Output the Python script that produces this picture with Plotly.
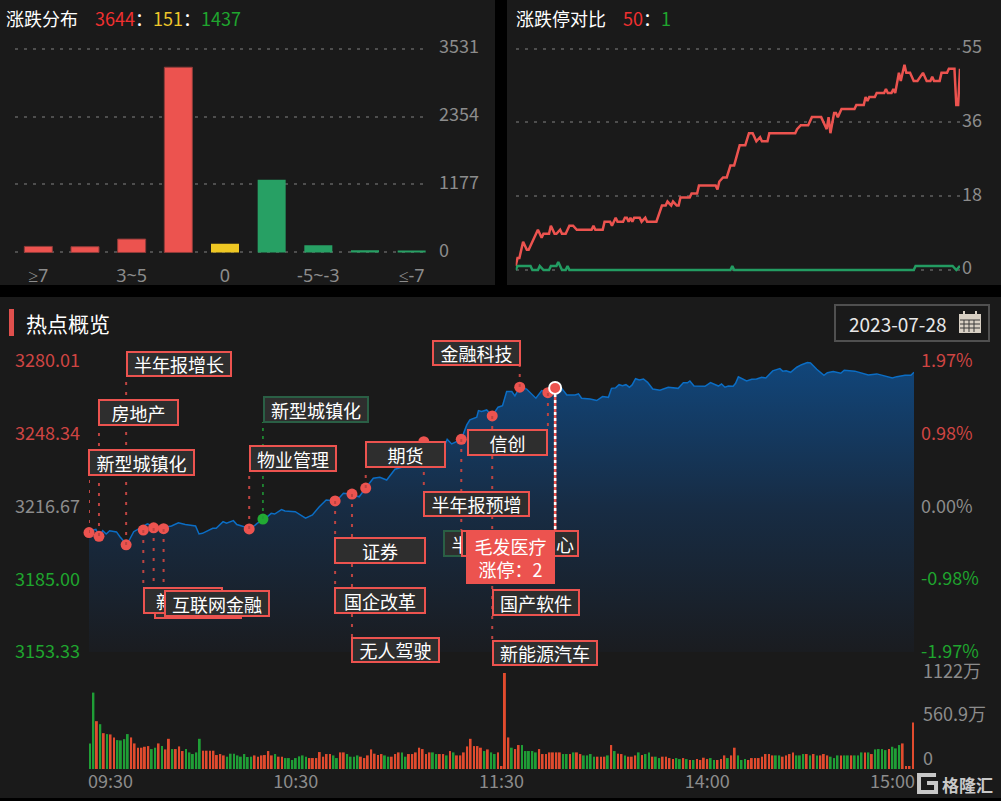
import plotly.graph_objects as go

# ---- data ----
dist_labels = ['≥7', '5~7', '3~5', '0~3', '0', '-3~0', '-5~-3', '-7~-5', '≤-7']
dist_values = [105, 100, 232, 3207, 151, 1258, 123, 37, 19]
dist_colors = ['#ec534f'] * 4 + ['#efc823'] + ['#27a064'] * 4
dist_ticks = ['≥7', '3~5', '0', '-5~-3', '≤-7']

limit_up_min = [0, 1, 2, 4, 6, 7, 10, 12, 14, 15, 18, 19, 21, 22, 24, 25, 27, 29, 31, 33, 41, 42, 43, 47, 48, 51, 52,
                54, 55, 58, 59, 60, 61, 62, 63, 64, 67, 68, 70, 71, 76, 79, 81, 82, 84, 85, 87, 88, 89, 94, 95, 98,
                99, 108, 109, 110, 112, 114, 116, 118, 121, 124, 126, 128, 130, 132, 133, 136, 137, 151, 152, 154,
                158, 160, 165, 168, 169, 170, 172, 173, 174, 176, 183, 184, 188, 189, 190, 191, 194, 195, 199, 200,
                201, 203, 204, 205, 207, 208, 210, 211, 213, 215, 217, 220, 222, 224, 225, 226, 229, 230, 233, 234,
                237, 238, 239, 240]
limit_up_val = [1, 3, 3, 7, 5, 5, 8, 10, 8, 9, 9, 11, 9, 9, 10, 9, 9, 11, 11, 10, 10, 11, 10, 10, 12, 12, 11,
                13, 12, 12, 13, 13, 12, 13, 12, 13, 13, 12, 13, 12, 12, 16, 16, 17, 16, 17, 16, 16, 18, 18, 19, 19,
                21, 21, 20, 22, 23, 23, 26, 26, 31, 31, 34, 34, 32, 33, 32, 32, 34, 34, 35, 36,
                36, 38, 38, 35, 38, 34, 39, 39, 38, 40, 40, 41, 41, 43, 42, 43, 43, 44, 44, 45,
                44, 44, 45, 44, 49, 47, 51, 49, 49, 47, 47, 49, 47, 47, 48, 47, 47, 49, 49, 50,
                50, 41, 41, 50]
limit_down_min = [0, 1, 8, 9, 12, 13, 15, 18, 19, 22, 23, 25, 27, 28, 29, 116, 117, 118, 215, 216, 236, 238, 240]
limit_down_val = [0, 1, 1, 0, 0, 1, 0, 0, 1, 1, 2, 0, 0, 1, 0, 0, 1, 0, 0, 1, 1, 0, 1]

index_min = [0, 1, 2, 3, 4, 5, 6, 8, 9, 11, 13, 16, 17, 19, 22, 24, 26, 28, 31, 32, 33, 36, 37, 39, 40, 42, 43, 47,
             49, 51, 53, 54, 56, 57, 60, 63, 65, 67, 69, 72, 74, 76, 78.6, 80.5, 82.7, 84.6, 86.6, 89, 91.4, 97.4,
             103.6, 104.2, 105.5, 108.3, 109.9, 110.8, 112.8, 113.3, 114.2, 115.7, 117.3, 119, 120.3, 121.5, 123,
             123.9, 125.3, 127.3, 130, 131.7, 133.5, 135.6, 137.5, 139, 141.4, 142.4, 143.3, 145.8, 147.7, 149.4,
             151.1, 152, 153.2, 154.2, 155.2, 156.2, 157.2, 158, 159, 160.1, 161.3, 162.5, 164, 166.1, 168.5, 171.4,
             172.9, 174.1, 174.8, 176, 179.2, 180.8, 183.1, 184, 185, 186, 187.4, 188.1, 188.9, 191.3, 192.8, 194.2,
             195.7, 196.9, 198.9, 201, 201.8, 202.8, 204.1, 205.9, 207.3, 209, 209.9, 211.7, 213.8, 214.8, 216.5,
             218.7, 219.7, 222.8, 225.3, 226.7, 229.2, 232, 233.7, 235, 237.4, 239.1, 240]
index_val = [3205.3, 3206.4, 3206.7, 3203.8, 3206.1, 3204.7, 3206.1, 3205.6, 3203.5, 3200.0, 3205.7, 3208.2, 3209.1,
             3207.9, 3207.6, 3208.2, 3209.6, 3208.8, 3208.2, 3204.7, 3205.0, 3207.2, 3207.2, 3210.1, 3209.4, 3210.5,
             3208.8, 3207.0, 3209.4, 3211.1, 3213.7, 3213.4, 3215.3, 3214.7, 3214.4, 3211.6, 3213.0, 3216.6, 3219.5,
             3219.1, 3222.4, 3222.1, 3220.9, 3224.7, 3229.0, 3229.4, 3228.2, 3232.9, 3233.9, 3244.9,
             3243.9, 3245.9, 3243.9, 3245.9, 3252.2, 3254.4, 3255.5, 3258.4, 3258.0, 3258.7, 3256.1, 3259.9, 3260.6,
             3266.7, 3266.7, 3264.8, 3268.6, 3267.8, 3263.8, 3267.1, 3266.2, 3268.3, 3268.1, 3265.2, 3265.2, 3265.7,
             3263.8, 3263.5, 3262.8, 3264.5, 3264.2, 3268.1, 3268.3, 3269.7, 3269.3, 3269.7, 3268.6, 3269.6, 3272.3,
             3271.8, 3272.2, 3270.7, 3267.8, 3267.3, 3268.6, 3268.1, 3270.5, 3270.5, 3271.3, 3269.1, 3269.0, 3270.6,
             3269.1, 3270.0, 3268.6, 3269.1, 3269.0, 3270.3, 3273.1, 3271.3, 3272.1, 3272.2, 3272.9, 3272.6, 3275.7,
             3276.7, 3275.6, 3275.8, 3275.1, 3277.3, 3278.4, 3279.3, 3279.2, 3276.4, 3273.8, 3274.9, 3275.4, 3274.7,
             3276.0, 3275.6, 3274.7, 3273.9, 3274.4, 3273.4, 3272.6, 3273.2, 3273.8, 3273.8, 3275.1]

event_min = [0, 2.9, 10.8, 15.8, 18.8, 21.7, 46.6, 71.6, 76.5, 80.5, 97.4, 108.3, 117.3, 125.3, 133.5]
event_val = [3205.3, 3203.7, 3200.0, 3206.4, 3207.4, 3207.0, 3206.9, 3219.1, 3222.1, 3224.7, 3244.9, 3245.9,
             3256.1, 3268.6, 3266.2]
down_event_min = [50.6]
down_event_val = [3211.2]
picked_min = [135.6]
picked_val = [3268.3]

volume = [299, 893, 559, 524, 419, 408, 404, 369, 338, 334, 349, 408, 369, 299, 249, 249, 260, 268, 233, 249,
          299, 268, 229, 353, 233, 233, 264, 210, 233, 194, 175, 194, 353, 214, 214, 214, 214, 163, 175, 159,
          144, 179, 179, 159, 144, 175, 140, 144, 159, 144, 159, 163, 210, 159, 175, 144, 144, 128, 128, 105,
          128, 148, 159, 144, 128, 128, 128, 198, 144, 175, 175, 159, 128, 194, 194, 175, 144, 144, 159, 144,
          128, 159, 229, 179, 163, 175, 159, 144, 144, 175, 194, 194, 144, 175, 175, 194, 249, 233, 175, 194,
          194, 175, 175, 175, 159, 210, 194, 159, 159, 194, 264, 353, 268, 268, 249, 210, 229, 194, 175, 194,
          35, 1122, 369, 249, 233, 280, 280, 210, 210, 210, 194, 233, 175, 175, 194, 194, 194, 194, 175, 175,
          175, 194, 194, 175, 159, 159, 175, 144, 144, 144, 144, 159, 280, 210, 179, 175, 159, 144, 144, 159,
          194, 163, 175, 194, 144, 144, 128, 144, 144, 128, 116, 128, 116, 128, 116, 105, 105, 116, 105, 132,
          116, 128, 105, 105, 116, 159, 128, 159, 249, 159, 105, 116, 105, 128, 128, 128, 144, 175, 175, 159,
          159, 159, 144, 159, 175, 194, 159, 159, 175, 175, 159, 175, 159, 159, 175, 159, 144, 128, 159, 159,
          159, 159, 159, 159, 159, 194, 194, 194, 175, 229, 233, 233, 221, 233, 260, 241, 280, 299, 35, 35, 544]
# R up / G down for each minute bar, ten per group
volume_dir = ''.join(['GGRGRGRRGG', 'GGRRRRRRGG', 'RGRRGRRRGG', 'GGGRRRRRRR', 'GGGGGGGGRR', 'RRRRGRRGGG',
                      'GGGGRRRRRR', 'RGGRRGGGGR', 'RRRRRRGGRR', 'RGGRRRRRRR', 'GGRRGRGRRR', 'RRRRRGRGGR',
                      'RRRGRRGGGG', 'GRRRRRRRGG', 'RGRRGGGGRR', 'RGRGRRGRRR', 'GRGGRGGRRR', 'RGGRGRGRRR',
                      'RGGRRRGRRG', 'GGRRRRRRRR', 'GGRRRRGGGR', 'GRGRRRGGGR', 'GGRGGGRGRG', 'GGGRGGGRRR', 'R'])
time_ticks = ['09:30', '10:30', '11:30', '14:00', '15:00']
left_ticks = ['3153.33', '3185.00', '3216.67', '3248.34', '3280.01']
left_vals = [3153.33, 3185.0, 3216.67, 3248.34, 3280.01]
pct_ticks = ['-1.97%', '-0.98%', '0.00%', '0.98%', '1.97%']
pct_vals = [-1.97, -0.98, 0, 0.98, 1.97]

# ---- colours ----
PANEL = '#1a1a1a'
RED = '#ec534f'
GREEN = '#239c62'
GRAY = '#8c8c8c'
TXT_RED = '#f03030'
TXT_YEL = '#eec62a'
TXT_GRN = '#1fa52e'
AX_RED = '#cf4543'
FONT = 'Noto Sans CJK SC'
W, H = 1001, 801


def fx(px):
    return px / W


def fy(py):
    return 1 - py / H


def colored(text, color):
    return '<span style="color:%s">%s</span>' % (color, text)


def text_at(text, px, py, size=18, color='white', xanchor='left'):
    return dict(text=text, x=fx(px), y=fy(py), xref='paper', yref='paper', xanchor=xanchor, yanchor='middle',
                showarrow=False, font=dict(family=FONT, size=size, color=color))


def label_box(text, x0, x1, y0, y1, border=RED):
    return dict(text=text, x=fx(x0), y=fy(y0), xref='paper', yref='paper', xanchor='left', yanchor='top',
                showarrow=False, width=x1 - x0 - 4, height=y1 - y0 - 4, borderpad=0, borderwidth=2,
                bordercolor=border, bgcolor='#2e2e2e', align='center', valign='middle',
                font=dict(family=FONT, size=18, color='white'))


fig = go.Figure()

fig.add_trace(go.Bar(x=dist_labels, y=dist_values, width=0.6,
                     marker=dict(color=dist_colors, line=dict(color='#8f3b39', width=[1, 1, 1, 1, 0, 0, 0, 0, 0])),
                     xaxis='x', yaxis='y'))
fig.add_trace(go.Scatter(x=limit_up_min, y=limit_up_val, mode='lines', line=dict(color=RED, width=2.5),
                         xaxis='x2', yaxis='y2'))
fig.add_trace(go.Scatter(x=limit_down_min, y=limit_down_val, mode='lines', line=dict(color=GREEN, width=2.5),
                         xaxis='x2', yaxis='y2'))

fig.add_trace(go.Scatter(x=index_min, y=index_val, mode='lines', line=dict(color='#0b6dc4', width=1.5), fill='tozeroy',
                         fillgradient=dict(type='vertical', start=3153.33, stop=3280.01,
                                           colorscale=[[0, '#1a1c20'], [0.5, '#172c44'], [1, '#11467b']]),
                         xaxis='x3', yaxis='y3'))
# invisible, only there so that the percent axis gets drawn
fig.add_trace(go.Scatter(x=[0, 240], y=[pct_vals[0], pct_vals[-1]], mode='lines', line=dict(width=0),
                         xaxis='x3', yaxis='y4'))
fig.add_trace(go.Scatter(x=event_min, y=event_val, mode='markers', marker=dict(color=RED, size=11), cliponaxis=False,
                         xaxis='x3', yaxis='y3'))
fig.add_trace(go.Scatter(x=down_event_min, y=down_event_val, mode='markers', marker=dict(color='#22aa33', size=11),
                         xaxis='x3', yaxis='y3'))
fig.add_trace(go.Scatter(x=picked_min, y=picked_val, mode='markers',
                         marker=dict(color=RED, size=12, line=dict(color='white', width=2)),
                         xaxis='x3', yaxis='y3'))

vol_colors = ['#e14b2e' if d == 'R' else '#1f9e36' for d in volume_dir]
fig.add_trace(go.Bar(x=list(range(len(volume))), y=volume, width=0.55, marker=dict(color=vol_colors, line=dict(width=0)),
                     xaxis='x5', yaxis='y5'))

# ---- shapes ----
shapes = []
for x0, y0, x1, y1 in [(0, 0, 495, 285), (507, 0, 1001, 285), (0, 297, 1001, 798)]:
    shapes.append(dict(type='rect', xref='paper', yref='paper', x0=fx(x0), x1=fx(x1), y0=fy(y0), y1=fy(y1),
                       fillcolor=PANEL, line=dict(width=0), layer='below'))
shapes.append(dict(type='rect', xref='paper', yref='paper', x0=fx(9), x1=fx(14), y0=fy(309), y1=fy(336),
                   fillcolor='#e0504d', line=dict(width=0)))
shapes.append(dict(type='rect', xref='paper', yref='paper', x0=fx(835), x1=fx(989), y0=fy(305), y1=fy(341),
                   line=dict(color='#505050', width=2)))

# dotted leaders: minute, from y pixel, to y pixel
leaders = [(0, 533, 476), (2.9, 536, 426), (10.8, 545, 377), (15.8, 530, 587), (18.8, 528, 600), (21.7, 529, 590),
           (46.6, 529, 472), (71.6, 501, 587), (76.5, 494, 637), (80.5, 488, 468), (97.4, 442, 491),
           (108.3, 439, 530), (117.3, 416, 640), (125.3, 387, 366), (133.5, 393, 429)]
for m, y0, y1 in leaders:
    shapes.append(dict(type='line', xref='x3', yref='paper', x0=m, x1=m, y0=fy(y0), y1=fy(y1),
                       line=dict(color='#bd4441', width=2, dash='3px,7px')))
shapes.append(dict(type='line', xref='x3', yref='paper', x0=50.6, x1=50.6, y0=fy(519), y1=fy(422),
                   line=dict(color='#1f9e36', width=1.5, dash='3px,5px')))
shapes.append(dict(type='line', xref='x3', yref='paper', x0=135.6, x1=135.6, y0=fy(394), y1=fy(531),
                   line=dict(color=RED, width=2.5)))
shapes.append(dict(type='line', xref='x3', yref='paper', x0=135.6, x1=135.6, y0=fy(394), y1=fy(531),
                   line=dict(color='white', width=2.5, dash='3px,3px')))

# calendar icon
ICON = '#d8d0c4'
shapes.append(dict(type='rect', xref='paper', yref='paper', x0=fx(959), x1=fx(981), y0=fy(314), y1=fy(333),
                   fillcolor=ICON, line=dict(width=0)))
for px in [964, 969, 974]:
    shapes.append(dict(type='line', xref='paper', yref='paper', x0=fx(px), x1=fx(px), y0=fy(320), y1=fy(332),
                       line=dict(color='#3a3a3a', width=1)))
for py in [320, 324, 328]:
    shapes.append(dict(type='line', xref='paper', yref='paper', x0=fx(960), x1=fx(980), y0=fy(py), y1=fy(py),
                       line=dict(color='#3a3a3a', width=1)))
for px in [964, 976]:
    shapes.append(dict(type='line', xref='paper', yref='paper', x0=fx(px), x1=fx(px), y0=fy(311), y1=fy(317),
                       line=dict(color=ICON, width=2)))

# watermark logo
logo = [(936, 775), (919, 775), (919, 792), (936, 792), (936, 783), (927, 783)]
path = 'M ' + ' L '.join('%.4f %.4f' % (fx(a), fy(b)) for a, b in logo)
shapes.append(dict(type='path', xref='paper', yref='paper', path=path, line=dict(color='#c8c8c8', width=4)))

# ---- text ----
sep = colored('：', 'white')
annotations = [
    text_at('涨跌分布', 4, 17.5),
    text_at(colored('3644', TXT_RED) + sep + colored('151', TXT_YEL) + sep + colored('1437', TXT_GRN), 93, 17.5),
    text_at('涨跌停对比', 514, 17.5),
    text_at(colored('50', TXT_RED) + sep + colored('1', TXT_GRN), 621, 17.5),
    text_at('热点概览', 24, 323, size=21),
    text_at('2023-07-28', 847, 323, size=19, color='#e8e8e8'),
    text_at('1122万', 921, 670, color=GRAY),
    text_at('560.9万', 921, 713, color=GRAY),
    text_at('0', 921, 757, color=GRAY),
    text_at('<b>格隆汇</b>', 940, 784, size=17, color='#c8c8c8'),
    label_box('半年报增长', 126, 232, 351, 377),
    label_box('房地产', 98, 179, 399, 426),
    label_box('新型城镇化', 88, 195, 449, 476),
    label_box('新型城镇化', 263, 369, 396, 423, border='#2a5f45'),
    label_box('物业管理', 249, 337, 445, 472),
    label_box('期货', 365, 446, 441, 468),
    label_box('金融科技', 432, 521, 340, 366),
    label_box('信创', 467, 548, 429, 456),
    label_box('半年报预增', 423, 530, 491, 517),
    label_box('证券', 334, 426, 537, 564),
    label_box('国企改革', 334, 426, 587, 614),
    label_box('无人驾驶', 351, 440, 637, 663),
    label_box(' ', 154, 242, 592, 619),
    label_box('新能源', 143, 223, 587, 614),
    label_box('互联网金融', 164, 270, 590, 617),
    label_box('半年报预增', 443, 550, 530, 557, border='#2a5f45'),
    label_box('算力数据中心', 461, 579, 530, 557),
    label_box('国产软件', 492, 580, 589, 616),
    label_box('新能源汽车', 492, 598, 640, 666),
    dict(text='毛发医疗<br>涨停：2', x=fx(466), y=fy(531), xref='paper', yref='paper', xanchor='left', yanchor='top',
         showarrow=False, width=89, height=53, borderpad=0, borderwidth=0, bgcolor=RED, align='center',
         font=dict(family=FONT, size=18, color='white')),
]

tick_font = dict(family=FONT, size=18, color=GRAY)
grid = dict(showgrid=True, gridcolor='#4e4e4e', griddash='3px,6px', gridwidth=1.5)

fig.update_layout(
    width=W, height=H, margin=dict(l=0, r=0, t=0, b=0, autoexpand=False), showlegend=False, barmode='overlay',
    paper_bgcolor='black', plot_bgcolor='rgba(0,0,0,0)', font=dict(family=FONT, size=18, color=GRAY),
    shapes=shapes, annotations=annotations,
    xaxis=dict(domain=[fx(15), fx(428)], range=[-0.5, 8.35], type='category', anchor='y', showgrid=False,
               zeroline=False, showline=False, ticks='', tickmode='array', tickvals=dist_ticks, ticktext=dist_ticks,
               tickangle=0, tickfont=dict(family='Noto Sans', size=18, color=GRAY), ticklabelstandoff=8),
    yaxis=dict(domain=[fy(254.5), fy(46.5)], range=[-35, 3566], side='right', anchor='x', zeroline=False, showline=False,
               tickmode='array', tickvals=[0, 1177, 2354, 3531], ticktext=['0', '1177', '2354', '3531'],
               tickfont=tick_font, ticks='', ticklabelstandoff=10, ticklabelshift=-2, **grid),
    xaxis2=dict(domain=[fx(515.7), fx(960)], range=[0, 240], anchor='y2', visible=False),
    yaxis2=dict(domain=[fy(272), fy(46.7)], range=[-0.5, 55.5], side='right', anchor='x2', zeroline=False, showline=False,
                tickmode='array', tickvals=[0, 18.33, 36.67, 55], ticktext=['0', '18', '36', '55'],
                tickfont=tick_font, ticks='', ticklabelstandoff=1, ticklabelshift=-2, **grid),
    xaxis3=dict(domain=[fx(89), fx(914)], range=[0, 240], anchor='y3', visible=False),
    yaxis3=dict(domain=[fy(652), fy(361)], range=[3153.33, 3280.01], side='left', anchor='x3', showgrid=False,
                zeroline=False, showline=False, tickmode='array', tickvals=left_vals,
                ticktext=[colored(left_ticks[0], TXT_GRN), colored(left_ticks[1], TXT_GRN), left_ticks[2],
                          colored(left_ticks[3], AX_RED), colored(left_ticks[4], AX_RED)],
                tickfont=tick_font, ticks='', ticklabelstandoff=8),
    yaxis4=dict(domain=[fy(652), fy(361)], range=[pct_vals[0], pct_vals[-1]], side='right', overlaying='y3', anchor='x3',
                showgrid=False, zeroline=False, showline=False, tickmode='array', tickvals=pct_vals,
                ticktext=[colored(pct_ticks[0], TXT_GRN), colored(pct_ticks[1], TXT_GRN), pct_ticks[2],
                          colored(pct_ticks[3], AX_RED), colored(pct_ticks[4], AX_RED)],
                tickfont=tick_font, ticks='', ticklabelstandoff=6),
    xaxis5=dict(domain=[fx(89), fx(914)], range=[-0.3, 240.3], anchor='y5', showgrid=False, zeroline=False, showline=False,
                tickmode='array', tickvals=[6, 60, 120, 180, 234], ticktext=time_ticks, tickfont=tick_font, ticks='',
                tickangle=0, ticklabelstandoff=0),
    yaxis5=dict(domain=[fy(769), fy(673)], range=[0, 1122], anchor='x5', visible=False),
)

# the page body has a default margin that would push the chart 8px off
fig.write_html("out.html", config=dict(displayModeBar=False), post_script="document.body.style.margin='0';")
